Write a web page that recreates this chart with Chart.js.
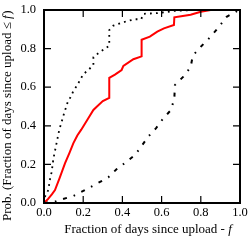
<!DOCTYPE html>
<html>
<head>
<meta charset="utf-8">
<script src="https://cdn.jsdelivr.net/npm/chart.js@4/dist/chart.umd.min.js"></script>
<style>
html,body{margin:0;padding:0;background:#fff;}
#wrap{width:248px;height:240px;}
</style>
</head>
<body>
<div id="wrap"><canvas id="c" width="248" height="240"></canvas></div>
<script>
// ---- data ----
const tickValues = [0, 0.2, 0.4, 0.6, 0.8, 1.0];
const xTitle = "Fraction of days since upload - ";
const yTitle = "Prob. (Fraction of days since upload \u2264 ";

const redX = [0, 0.02, 0.04, 0.056, 0.08, 0.107, 0.13, 0.15, 0.17, 0.19, 0.226, 0.252, 0.269, 0.30, 0.333, 0.333, 0.362, 0.396, 0.405, 0.456, 0.498, 0.498, 0.54, 0.578, 0.612, 0.663, 0.665, 0.70, 0.748, 0.80, 0.85, 1.0];
const redY = [0, 0.02, 0.045, 0.067, 0.13, 0.205, 0.26, 0.31, 0.35, 0.38, 0.439, 0.482, 0.499, 0.528, 0.545, 0.648, 0.665, 0.689, 0.710, 0.745, 0.76, 0.846, 0.862, 0.888, 0.905, 0.922, 0.962, 0.968, 0.975, 0.991, 1.0, 1.0];

const dotX = [0, 0.005, 0.022, 0.03, 0.039, 0.048, 0.056, 0.068, 0.078, 0.09, 0.10, 0.119, 0.136, 0.15, 0.17, 0.20, 0.226, 0.252, 0.252, 0.277, 0.306, 0.333, 0.333, 0.354, 0.388, 0.425, 0.464, 0.496, 0.507, 0.578, 0.663, 0.765, 1.0];
const dotY = [0, 0.033, 0.067, 0.12, 0.16, 0.23, 0.27, 0.33, 0.38, 0.42, 0.456, 0.517, 0.55, 0.58, 0.611, 0.667, 0.689, 0.715, 0.755, 0.776, 0.796, 0.815, 0.896, 0.919, 0.931, 0.943, 0.952, 0.952, 0.98, 0.984, 0.995, 1.0, 1.0];

const dashX = [0, 0.05, 0.09, 0.15, 0.209, 0.269, 0.328, 0.37, 0.418, 0.464, 0.498, 0.532, 0.571, 0.609, 0.648, 0.665, 0.668, 0.711, 0.748, 0.759, 0.80, 0.847, 0.889, 0.932, 0.995, 1.0];
const dashY = [0, 0.005, 0.019, 0.036, 0.067, 0.10, 0.133, 0.175, 0.211, 0.249, 0.295, 0.344, 0.387, 0.439, 0.482, 0.542, 0.611, 0.655, 0.703, 0.763, 0.81, 0.858, 0.908, 0.965, 1.0, 1.0];

const pts = (xs, ys) => xs.map((x, i) => ({x: x, y: ys[i]}));

const SERIF = "'Liberation Serif', 'DejaVu Serif', serif";

function zeroPad(s) { s.paddingTop = 0; s.paddingBottom = 0; s.paddingLeft = 0; s.paddingRight = 0; }

const framePlugin = {
  id: 'frame',
  afterDraw(chart) {
    const ctx = chart.ctx, a = chart.chartArea;
    const xs = chart.scales.x, ys = chart.scales.y;
    ctx.save();
    ctx.strokeStyle = '#000';
    ctx.lineWidth = 1.2;
    const L = 7;
    tickValues.forEach(v => {
      const px = xs.getPixelForValue(v);
      const py = ys.getPixelForValue(v);
      ctx.beginPath();
      ctx.moveTo(px, a.bottom); ctx.lineTo(px, a.bottom - L);
      ctx.moveTo(px, a.top); ctx.lineTo(px, a.top + L);
      ctx.moveTo(a.left, py); ctx.lineTo(a.left + L, py);
      ctx.moveTo(a.right, py); ctx.lineTo(a.right - L, py);
      ctx.stroke();
    });
    ctx.lineWidth = 2;
    ctx.strokeRect(a.left, a.top, a.right - a.left, a.bottom - a.top);
    ctx.fillStyle = '#000';
    ctx.textBaseline = 'middle';
    const f = '13px ' + SERIF, fi = 'italic 13px ' + SERIF;
    ctx.font = f;
    const w1 = ctx.measureText(xTitle).width;
    ctx.font = fi;
    const w2 = ctx.measureText('f').width;
    let sx = 148 - (w1 + w2) / 2;
    ctx.textAlign = 'left';
    ctx.font = f; ctx.fillText(xTitle, sx, 230);
    ctx.font = fi; ctx.fillText('f', sx + w1, 230);
    ctx.translate(8, 116);
    ctx.rotate(-Math.PI / 2);
    ctx.font = f;
    const v1 = ctx.measureText(yTitle).width;
    ctx.font = fi;
    const v2 = ctx.measureText('f').width;
    ctx.font = f;
    const v3 = ctx.measureText(')').width;
    let sy = -(v1 + v2 + v3) / 2;
    ctx.font = f; ctx.fillText(yTitle, sy, 0);
    ctx.font = fi; ctx.fillText('f', sy + v1, 0);
    ctx.font = f; ctx.fillText(')', sy + v1 + v2 + 0.5, 0);
    ctx.restore();
  }
};

new Chart(document.getElementById('c'), {
  type: 'scatter',
  data: {
    datasets: [
      { label: 'upper', data: pts(dotX, dotY), showLine: true, borderColor: '#000', borderWidth: 1.8, borderDash: [1.8, 4.2], pointRadius: 0, tension: 0, fill: false },
      { label: 'middle', data: pts(redX, redY), showLine: true, borderColor: '#ff0000', borderWidth: 2, pointRadius: 0, tension: 0, fill: false },
      { label: 'lower', data: pts(dashX, dashY), showLine: true, borderColor: '#000', borderWidth: 2, borderDash: [4, 7, 1.6, 7], pointRadius: 0, tension: 0, fill: false }
    ]
  },
  options: {
    responsive: false,
    animation: false,
    devicePixelRatio: 1,
    layout: { padding: { top: 10, right: 8, left: 0, bottom: 0 } },
    plugins: { legend: { display: false }, tooltip: { enabled: false } },
    scales: {
      x: {
        type: 'linear', min: 0, max: 1,
        afterBuildTicks: s => { s.ticks = tickValues.map(v => ({value: v})); },
        afterFit: s => { s.height = 37; zeroPad(s); },
        ticks: { color: '#000', padding: 2, maxRotation: 0, font: { family: SERIF, size: 12.5 }, callback: v => Number(v).toFixed(1) },
        grid: { display: false, drawTicks: false },
        border: { display: false }
      },
      y: {
        type: 'linear', min: 0, max: 1,
        afterBuildTicks: s => { s.ticks = tickValues.map(v => ({value: v})); },
        afterFit: s => { s.width = 44; zeroPad(s); },
        ticks: { color: '#000', padding: 8, font: { family: SERIF, size: 12.5 }, callback: v => Number(v).toFixed(1) },
        grid: { display: false, drawTicks: false },
        border: { display: false }
      }
    }
  },
  plugins: [framePlugin]
});
</script>
</body>
</html>
